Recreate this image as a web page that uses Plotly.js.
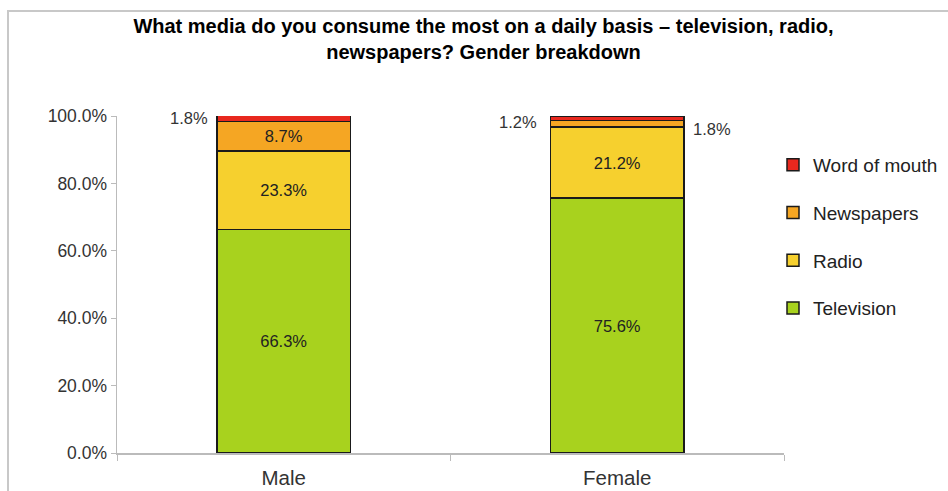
<!DOCTYPE html>
<html>
<head>
<meta charset="utf-8">
<script src="https://cdn.plot.ly/plotly-3.0.1.min.js"></script>
<style>html,body{margin:0;padding:0;background:#fff;}#chart{width:948px;height:491px;}</style>
</head>
<body>
<div id="chart"></div>
<script>
const categories = ["Male", "Female"];
const seriesNames = ["Television", "Radio", "Newspapers", "Word of mouth"];
const television = [66.3, 75.6];
const radio = [23.3, 21.2];
const newspapers = [8.7, 1.8];
const wordOfMouth = [1.8, 1.2];
const yTickVals = [0, 20, 40, 60, 80, 100];
const yTickText = ["0.0%", "20.0%", "40.0%", "60.0%", "80.0%", "100.0%"];

const colors = ["#A8D21E", "#F6D02E", "#F5A623", "#E8281E"];
const allValues = [television, radio, newspapers, wordOfMouth];

const fmt = v => v.toFixed(1) + "%";
const FONT = "Liberation Sans, Arial, sans-serif";

const traces = allValues.map((vals, i) => ({
  type: "bar",
  name: seriesNames[i],
  legendgroup: seriesNames[i],
  legendrank: 10 - i,
  x: categories,
  y: vals,
  width: 0.4,
  marker: {color: colors[i], line: {color: "#1a1a1a", width: 1.5}},
  text: vals.map(v => v >= 5 ? fmt(v) : ""),
  textposition: "inside",
  insidetextanchor: "middle",
  textfont: {family: FONT, size: 16.5, color: "#222"},
  hoverinfo: "skip"
}));

const cum = (ci, si) => allValues.slice(0, si).reduce((s, a) => s + a[ci], 0);
const annFont = {family: FONT, size: 16.5, color: "#333"};
const annotations = [
  {x: categories[0], y: cum(0, 3) + wordOfMouth[0] / 2 + 0.2, text: fmt(wordOfMouth[0]), showarrow: false, xshift: -95, font: annFont},
  {x: categories[1], y: cum(1, 3) + wordOfMouth[1] / 2 - 1.0, text: fmt(wordOfMouth[1]), showarrow: false, xshift: -99, font: annFont},
  {x: categories[1], y: cum(1, 2) + newspapers[1] / 2 - 1.6, text: fmt(newspapers[1]), showarrow: false, xshift: 95, font: annFont}
];

// paper spans x 117..948 (831 px); plot area ends at 784
const layout = {
  width: 948, height: 491,
  margin: {l: 117, r: 0, t: 116, b: 38},
  paper_bgcolor: "#fff", plot_bgcolor: "#fff",
  barmode: "stack",
  font: {family: FONT, color: "#333"},
  title: {
    text: "<b>What media do you consume the most on a daily basis – television, radio,<br>newspapers? Gender breakdown</b>",
    x: 0.51, xref: "container", xanchor: "center",
    y: 0.932, yref: "container", yanchor: "top",
    font: {family: FONT, size: 20, color: "#000"}
  },
  xaxis: {
    type: "category",
    domain: [0, 667 / 831],
    tickson: "boundaries",
    ticks: "outside", ticklen: 6, tickcolor: "#bbb",
    showline: true, linecolor: "#bbb", linewidth: 1.5,
    showgrid: false, zeroline: false,
    ticklabelstandoff: 6,
    tickfont: {size: 20.5, color: "#333"}
  },
  yaxis: {
    range: [0, 100],
    tickvals: yTickVals, ticktext: yTickText,
    ticks: "outside", ticklen: 5, tickcolor: "#bbb",
    showline: true, linecolor: "#bbb", linewidth: 1.5,
    showgrid: false, zeroline: false,
    tickfont: {size: 17.5, color: "#333"}
  },
  legend: {
    x: (773 - 117) / 831, xanchor: "left", y: 0.911, yanchor: "top",
    traceorder: "grouped",
    tracegroupgap: 20,
    font: {size: 19, color: "#222"},
    itemclick: false
  },
  showlegend: true,
  annotations: annotations,
  shapes: [{
    type: "rect", xref: "paper", yref: "paper",
    x0: (8 - 117) / 831, x1: 1.2, y0: -0.5, y1: 1.3116,
    line: {color: "#c8c8c8", width: 2}, fillcolor: "rgba(0,0,0,0)", layer: "below"
  }]
};

Plotly.newPlot("chart", traces, layout, {displayModeBar: false, staticPlot: true});
</script>
</body>
</html>
